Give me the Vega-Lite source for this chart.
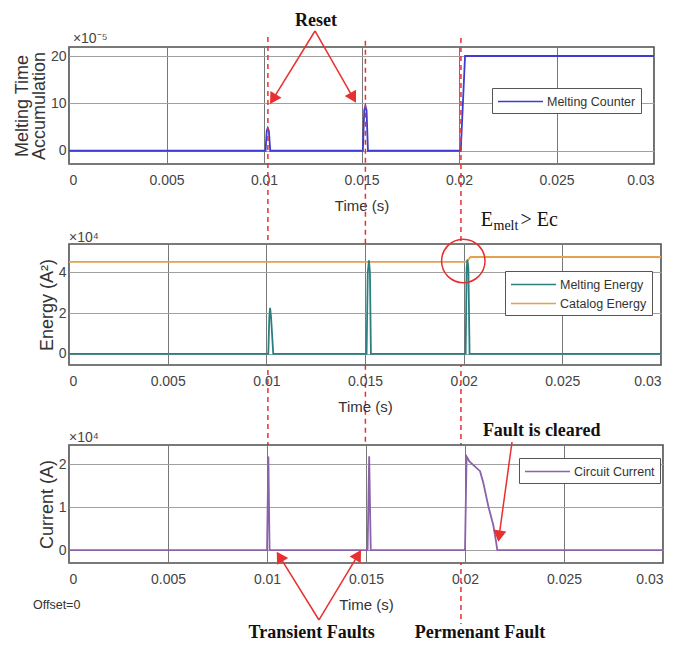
{
  "$schema": "https://vega.github.io/schema/vega-lite/v6.json",
  "background": "white",
  "padding": {"left": 12, "top": 11, "right": 5, "bottom": 0},
  "spacing": 80,
  "bounds": "flush",
  "config": {
    "font": "Liberation Sans",
    "view": {"stroke": "#4d4d4d", "strokeWidth": 1.6, "fill": "white"},
    "axis": {"grid": true, "domain": false, "ticks": false, "labelFont": "Liberation Sans", "labelFontSize": 14, "labelColor": "#444", "titleFont": "Liberation Sans", "titleFontSize": 18, "titleFontWeight": "normal", "titleColor": "#333"},
    "axisX": {"gridColor": "#777", "labelPadding": 9, "titlePadding": 11, "titleFontSize": 15},
    "axisY": {"gridColor": "#a0a0a0", "labelPadding": 3, "titlePadding": 2, "titleLineHeight": 17},
    "legend": {"labelFont": "Liberation Sans", "labelFontSize": 12.5, "labelColor": "#333", "symbolType": "M-1,0H5", "symbolSize": 225, "symbolStrokeWidth": 1.6, "strokeColor": "#555", "fillColor": "white", "padding": 5, "labelOffset": 33, "orient": "none"}
  },
  "resolve": {"scale": {"color": "independent"}, "legend": {"color": "independent"}},
  "vconcat": [
    {
      "width": 585,
      "height": 117,
      "encoding": {
        "x": {"field": "t", "type": "quantitative", "scale": {"domain": [0, 0.03], "nice": false, "zero": false}, "axis": {"values": [0, 0.005, 0.01, 0.015, 0.02, 0.025, 0.03], "format": "~g", "title": "Time (s)"}},
        "y": {"field": "v", "type": "quantitative", "scale": {"domain": [-2.8, 21.9], "nice": false, "zero": false}, "axis": {"values": [0, 10, 20], "title": ["Melting Time", "Accumulation"]}}
      },
      "layer": [
        {
          "data": {"values": [
            {"t": 0, "v": 0}, {"t": 0.01008, "v": 0}, {"t": 0.01014, "v": 4.2}, {"t": 0.01019, "v": 4.8}, {"t": 0.01025, "v": 4.2}, {"t": 0.01032, "v": 0},
            {"t": 0.01507, "v": 0}, {"t": 0.01514, "v": 8.5}, {"t": 0.0152, "v": 9.45}, {"t": 0.01526, "v": 8.5}, {"t": 0.01533, "v": 0},
            {"t": 0.02009, "v": 0}, {"t": 0.02031, "v": 20}, {"t": 0.03, "v": 20}
          ]},
          "mark": {"type": "line", "strokeWidth": 1.8},
          "encoding": {"color": {"datum": "Melting Counter", "scale": {"domain": ["Melting Counter"], "range": ["#3c3cd2"]}, "legend": {"title": null, "legendX": 423, "legendY": 41}}}
        },
        {
          "data": {"values": [
            {"t": 0.0102, "v": 24.0, "v2": -62.3},
            {"t": 0.0152, "v": 23.2, "v2": -62.3},
            {"t": 0.0201, "v": 23.8, "v2": -99.9}
          ]},
          "mark": {"type": "rule", "color": "#e83030", "strokeWidth": 1.5, "strokeDash": [5, 4], "clip": false},
          "encoding": {"y2": {"field": "v2"}}
        },
        {
          "data": {"values": [
            {"t": 0.012615, "v": 25.28, "t2": 0.010462, "v2": 10.9},
            {"t": 0.012615, "v": 25.28, "t2": 0.014574, "v2": 11.18}
          ]},
          "mark": {"type": "rule", "color": "#e83030", "strokeWidth": 1.5, "clip": false},
          "encoding": {"x2": {"field": "t2"}, "y2": {"field": "v2"}}
        },
        {
          "data": {"values": [{"t": 0.010462, "v": 10.9}]},
          "mark": {"type": "point", "shape": "triangle-up", "angle": 211.65, "size": 170, "filled": true, "opacity": 1, "color": "#e83030", "clip": false}
        },
        {
          "data": {"values": [{"t": 0.014574, "v": 11.18}]},
          "mark": {"type": "point", "shape": "triangle-up", "angle": 150.24, "size": 170, "filled": true, "opacity": 1, "color": "#e83030", "clip": false}
        },
        {
          "data": {"values": [{"t": 0.012667, "v": 27.39, "label": "Reset"}]},
          "mark": {"type": "text", "font": "Liberation Serif", "fontWeight": "bold", "fontSize": 18, "color": "#111", "align": "center", "baseline": "middle", "clip": false},
          "encoding": {"text": {"field": "label"}}
        },
        {
          "data": {"values": [{"t": 0.0002, "v": 22.74, "label": "×10⁻⁵"}]},
          "mark": {"type": "text", "fontSize": 14, "color": "#444", "align": "left", "baseline": "alphabetic", "clip": false},
          "encoding": {"text": {"field": "label"}}
        }
      ]
    },
    {
      "width": 592,
      "height": 121,
      "encoding": {
        "x": {"field": "t", "type": "quantitative", "scale": {"domain": [0, 0.03], "nice": false, "zero": false}, "axis": {"values": [0, 0.005, 0.01, 0.015, 0.02, 0.025, 0.03], "format": "~g", "title": "Time (s)"}},
        "y": {"field": "v", "type": "quantitative", "scale": {"domain": [-0.55, 5.4], "nice": false, "zero": false}, "axis": {"values": [0, 2, 4], "title": "Energy (A²)"}}
      },
      "layer": [
        {
          "data": {"values": [
            {"t": 0, "v": 4.52, "series": "Catalog Energy"}, {"t": 0.02012, "v": 4.52, "series": "Catalog Energy"}, {"t": 0.02035, "v": 4.76, "series": "Catalog Energy"}, {"t": 0.03, "v": 4.76, "series": "Catalog Energy"},
            {"t": 0, "v": 0, "series": "Melting Energy"}, {"t": 0.0101, "v": 0, "series": "Melting Energy"}, {"t": 0.01015, "v": 1.8, "series": "Melting Energy"}, {"t": 0.01019, "v": 2.26, "series": "Melting Energy"}, {"t": 0.01024, "v": 1.8, "series": "Melting Energy"}, {"t": 0.01035, "v": 0, "series": "Melting Energy"},
            {"t": 0.01508, "v": 0, "series": "Melting Energy"}, {"t": 0.01514, "v": 4.0, "series": "Melting Energy"}, {"t": 0.0152, "v": 4.6, "series": "Melting Energy"}, {"t": 0.01525, "v": 4.0, "series": "Melting Energy"}, {"t": 0.0153, "v": 0, "series": "Melting Energy"},
            {"t": 0.0201, "v": 0, "series": "Melting Energy"}, {"t": 0.02015, "v": 4.2, "series": "Melting Energy"}, {"t": 0.02019, "v": 4.62, "series": "Melting Energy"}, {"t": 0.02024, "v": 4.2, "series": "Melting Energy"}, {"t": 0.0203, "v": 0, "series": "Melting Energy"}, {"t": 0.03, "v": 0, "series": "Melting Energy"}
          ]},
          "mark": {"type": "line", "strokeWidth": 1.8},
          "encoding": {"color": {"field": "series", "type": "nominal", "scale": {"domain": ["Melting Energy", "Catalog Energy"], "range": ["#2a8080", "#e3a24e"]}, "legend": {"title": null, "legendX": 436, "legendY": 27, "rowPadding": 4}}}
        },
        {
          "data": {"values": [{"t": 0.019981, "v": 4.564}]},
          "mark": {"type": "point", "shape": "circle", "size": 1886, "filled": false, "opacity": 1, "color": "#e53030", "strokeWidth": 1.5, "clip": false}
        },
        {
          "data": {"values": [{"t": 0.020863, "v": 6.285, "label": "E"}, {"t": 0.02288, "v": 6.285, "label": "> Ec"}]},
          "mark": {"type": "text", "font": "Liberation Serif", "fontSize": 20, "color": "#111", "align": "left", "baseline": "alphabetic", "clip": false},
          "encoding": {"text": {"field": "label"}}
        },
        {
          "data": {"values": [{"t": 0.021512, "v": 6.088, "label": "melt"}]},
          "mark": {"type": "text", "font": "Liberation Serif", "fontSize": 14, "color": "#111", "align": "left", "baseline": "alphabetic", "clip": false},
          "encoding": {"text": {"field": "label"}}
        },
        {
          "data": {"values": [{"t": 0, "v": 5.498, "label": "×10⁴"}]},
          "mark": {"type": "text", "fontSize": 14, "color": "#444", "align": "left", "baseline": "alphabetic", "clip": false},
          "encoding": {"text": {"field": "label"}}
        }
      ]
    },
    {
      "width": 594,
      "height": 118,
      "encoding": {
        "x": {"field": "t", "type": "quantitative", "scale": {"domain": [0, 0.03], "nice": false, "zero": false}, "axis": {"values": [0, 0.005, 0.01, 0.015, 0.02, 0.025, 0.03], "format": "~g", "title": "Time (s)"}},
        "y": {"field": "v", "type": "quantitative", "scale": {"domain": [-0.3, 2.45], "nice": false, "zero": false}, "axis": {"values": [0, 1, 2], "title": "Current (A)"}}
      },
      "layer": [
        {
          "data": {"values": [
            {"t": 0, "v": 0}, {"t": 0.01, "v": 0}, {"t": 0.01007, "v": 2.18}, {"t": 0.01013, "v": 0},
            {"t": 0.01508, "v": 0}, {"t": 0.01516, "v": 2.19}, {"t": 0.01524, "v": 0},
            {"t": 0.02, "v": 0}, {"t": 0.02008, "v": 2.18}, {"t": 0.02022, "v": 2.07}, {"t": 0.02076, "v": 1.84}, {"t": 0.02093, "v": 1.56}, {"t": 0.02118, "v": 1.02}, {"t": 0.02143, "v": 0.58}, {"t": 0.02157, "v": 0.19}, {"t": 0.02163, "v": 0}, {"t": 0.03, "v": 0}
          ]},
          "mark": {"type": "line", "strokeWidth": 1.8},
          "encoding": {"color": {"datum": "Circuit Current", "scale": {"domain": ["Circuit Current"], "range": ["#8a62aa"]}, "legend": {"title": null, "legendX": 450, "legendY": 13}}}
        },
        {
          "data": {"values": [
            {"t": 0.022374, "v": 2.52, "t2": 0.021722, "v2": 0.327},
            {"t": 0.012626, "v": -1.628, "t2": 0.010641, "v2": -0.151},
            {"t": 0.012626, "v": -1.628, "t2": 0.014601, "v2": -0.111}
          ]},
          "mark": {"type": "rule", "color": "#e83030", "strokeWidth": 1.5, "clip": false},
          "encoding": {"x2": {"field": "t2"}, "y2": {"field": "v2"}}
        },
        {
          "data": {"values": [{"t": 0.021722, "v": 0.327}]},
          "mark": {"type": "point", "shape": "triangle-up", "angle": 188.13, "size": 170, "filled": true, "opacity": 1, "color": "#e83030", "clip": false}
        },
        {
          "data": {"values": [{"t": 0.010641, "v": -0.151}]},
          "mark": {"type": "point", "shape": "triangle-up", "angle": 328.2, "size": 170, "filled": true, "opacity": 1, "color": "#e83030", "clip": false}
        },
        {
          "data": {"values": [{"t": 0.014601, "v": -0.111}]},
          "mark": {"type": "point", "shape": "triangle-up", "angle": 30.96, "size": 170, "filled": true, "opacity": 1, "color": "#e83030", "clip": false}
        },
        {
          "data": {"values": [
            {"t": 0.023874, "v": 2.776, "label": "Fault is cleared"},
            {"t": 0.012258, "v": -1.931, "label": "Transient Faults"},
            {"t": 0.020758, "v": -1.931, "label": "Permenant Fault"}
          ]},
          "mark": {"type": "text", "font": "Liberation Serif", "fontWeight": "bold", "fontSize": 18, "color": "#111", "align": "center", "baseline": "middle", "clip": false},
          "encoding": {"text": {"field": "label"}}
        },
        {
          "data": {"values": [{"t": -0.001818, "v": -1.279, "label": "Offset=0"}]},
          "mark": {"type": "text", "fontSize": 12.5, "color": "#333", "align": "left", "baseline": "middle", "clip": false},
          "encoding": {"text": {"field": "label"}}
        },
        {
          "data": {"values": [{"t": 0, "v": 2.52, "label": "×10⁴"}]},
          "mark": {"type": "text", "fontSize": 14, "color": "#444", "align": "left", "baseline": "alphabetic", "clip": false},
          "encoding": {"text": {"field": "label"}}
        }
      ]
    }
  ]
}
